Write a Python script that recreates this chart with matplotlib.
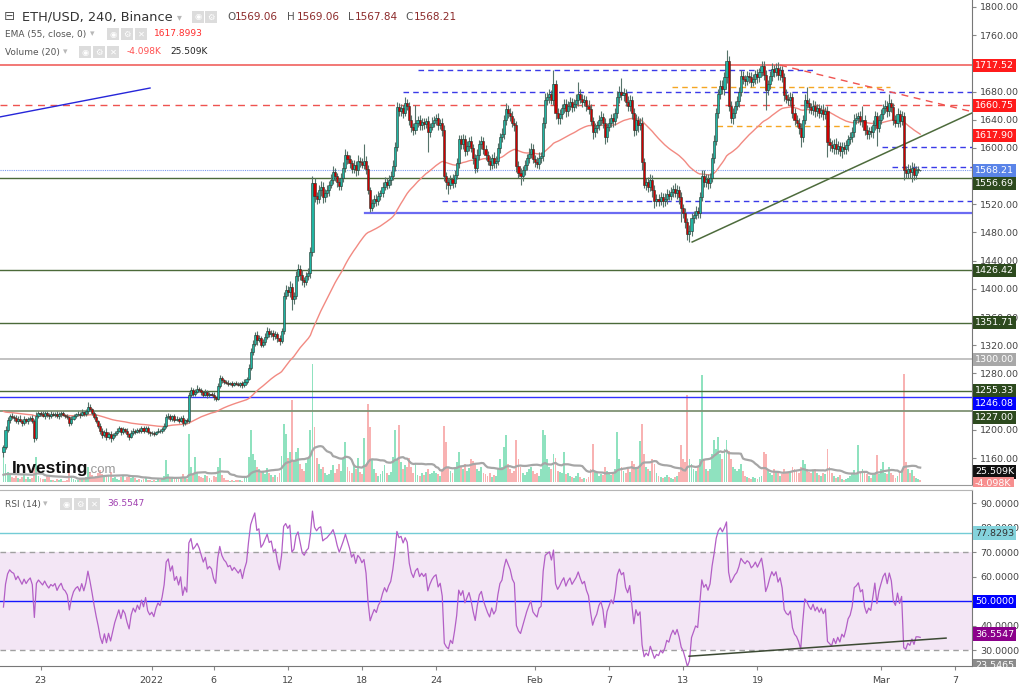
import numpy as np
import pandas as pd
import matplotlib
matplotlib.use("Agg")
import matplotlib.pyplot as plt
from matplotlib.transforms import blended_transform_factory, Bbox
from matplotlib.patches import Rectangle

plt.rcParams['font.family'] = ['DejaVu Sans']

# ---------------- data (4h candles, ETH/USD) ----------------
first_open = 1168.0
close = [
    1175, 1200, 1214, 1220, 1218, 1217,   # Dec 20
    1212, 1216, 1213, 1210, 1215, 1212,   # Dec 21
    1215, 1217, 1213, 1188, 1220, 1224,   # Dec 22
    1222, 1220, 1224, 1221, 1219, 1222,   # Dec 23
    1221, 1223, 1219, 1222, 1224, 1221,   # Dec 24
    1220, 1218, 1210, 1216, 1220, 1222,   # Dec 25
    1223, 1221, 1225, 1222, 1226, 1233,   # Dec 26
    1229, 1224, 1218, 1212, 1206, 1198,   # Dec 27
    1193, 1197, 1190, 1194, 1188, 1192,   # Dec 28
    1196, 1199, 1202, 1197, 1201, 1199,   # Dec 29
    1194, 1190, 1196, 1199, 1197, 1200,   # Dec 30
    1198, 1202, 1199, 1203, 1197, 1195,   # Dec 31
    1196, 1194, 1197, 1199, 1198, 1201,   # Jan 1
    1206, 1218, 1220, 1216, 1219, 1214,   # Jan 2
    1216, 1213, 1217, 1210, 1214, 1212,   # Jan 3
    1250, 1256, 1251, 1254, 1258, 1256,   # Jan 4
    1253, 1250, 1254, 1249, 1251, 1250,   # Jan 5
    1246, 1244, 1262, 1274, 1270, 1268,   # Jan 6
    1267, 1265, 1266, 1264, 1266, 1265,   # Jan 7
    1264, 1266, 1263, 1268, 1272, 1288,   # Jan 8
    1310, 1322, 1335, 1327, 1330, 1321,   # Jan 9
    1325, 1332, 1340, 1336, 1338, 1333,   # Jan 10
    1336, 1330, 1326, 1340, 1390, 1398,   # Jan 11
    1395, 1403, 1385, 1390, 1418, 1428,   # Jan 12
    1420, 1412, 1410, 1418, 1422, 1452,   # Jan 13
    1550, 1532, 1528, 1540, 1545, 1530,   # Jan 14
    1536, 1540, 1548, 1555, 1566, 1560,   # Jan 15
    1552, 1546, 1558, 1572, 1590, 1584,   # Jan 16
    1578, 1570, 1576, 1568, 1582, 1580,   # Jan 17
    1576, 1581, 1570, 1540, 1515, 1522,   # Jan 18
    1528, 1524, 1532, 1536, 1545, 1552,   # Jan 19
    1548, 1555, 1560, 1575, 1602, 1658,   # Jan 20
    1652, 1656, 1650, 1664, 1660, 1640,   # Jan 21
    1630, 1625, 1636, 1640, 1632, 1637,   # Jan 22
    1634, 1638, 1622, 1630, 1636, 1640,   # Jan 23
    1642, 1632, 1636, 1625, 1560, 1552,   # Jan 24
    1548, 1556, 1550, 1562, 1578, 1612,   # Jan 25
    1605, 1612, 1596, 1603, 1610, 1600,   # Jan 26
    1585, 1572, 1590, 1605, 1610, 1598,   # Jan 27
    1590, 1582, 1576, 1586, 1578, 1582,   # Jan 28
    1600, 1615, 1620, 1640, 1655, 1650,   # Jan 29
    1645, 1636, 1632, 1575, 1565, 1560,   # Jan 30
    1568, 1576, 1585, 1592, 1598, 1584,   # Jan 31
    1580, 1577, 1586, 1588, 1635, 1668,   # Feb 1
    1672, 1676, 1668, 1690, 1650, 1642,   # Feb 2
    1648, 1656, 1662, 1652, 1660, 1665,   # Feb 3
    1658, 1663, 1668, 1676, 1670, 1665,   # Feb 4
    1668, 1660, 1655, 1638, 1622, 1628,   # Feb 5
    1632, 1640, 1644, 1636, 1615, 1630,   # Feb 6
    1636, 1642, 1638, 1650, 1672, 1680,   # Feb 7
    1675, 1678, 1665, 1660, 1668, 1650,   # Feb 8
    1625, 1640, 1632, 1636, 1580, 1548,   # Feb 9
    1552, 1545, 1555, 1540, 1524, 1528,   # Feb 10
    1525, 1530, 1524, 1528, 1535, 1532,   # Feb 11
    1538, 1542, 1536, 1540, 1530, 1515,   # Feb 12
    1508, 1495, 1478, 1482, 1500, 1505,   # Feb 13
    1510, 1508, 1530, 1560, 1552, 1556,   # Feb 14
    1550, 1558, 1585, 1610, 1650, 1676,   # Feb 15
    1688, 1684, 1700, 1724, 1660, 1642,   # Feb 16
    1650, 1660, 1666, 1680, 1702, 1698,   # Feb 17
    1695, 1702, 1700, 1694, 1698, 1705,   # Feb 18
    1700, 1708, 1716, 1704, 1682, 1690,   # Feb 19
    1702, 1712, 1708, 1714, 1704, 1710,   # Feb 20
    1700, 1675, 1670, 1668, 1672, 1650,   # Feb 21
    1640, 1636, 1628, 1615, 1640, 1668,   # Feb 22
    1664, 1658, 1654, 1660, 1652, 1656,   # Feb 23
    1650, 1654, 1648, 1652, 1608, 1604,   # Feb 24
    1600, 1606, 1598, 1603, 1596, 1602,   # Feb 25
    1598, 1604, 1612, 1615, 1622, 1640,   # Feb 26
    1642, 1645, 1638, 1640, 1626, 1620,   # Feb 27
    1624, 1622, 1632, 1645, 1628, 1640,   # Feb 28
    1648, 1656, 1660, 1652, 1664, 1658,   # Mar 1
    1640, 1636, 1648, 1638, 1645, 1568,   # Mar 2
    1564, 1570, 1566, 1572, 1562, 1569.06,  # Mar 3
    1569.06, 1568.21,                       # Mar 4
]
wick_up = [
    3, 6, 4, 3, 4, 3,   # Dec 20
    4, 3, 5, 3, 4, 2,   # Dec 21
    3, 2, 4, 3, 5, 3,   # Dec 22
    2, 4, 3, 2, 3, 4,   # Dec 23
    3, 2, 4, 3, 2, 3,   # Dec 24
    2, 3, 2, 4, 3, 2,   # Dec 25
    3, 2, 4, 2, 3, 6,   # Dec 26
    3, 2, 3, 4, 2, 3,   # Dec 27
    4, 3, 5, 3, 4, 3,   # Dec 28
    3, 4, 3, 2, 3, 2,   # Dec 29
    3, 2, 4, 3, 2, 3,   # Dec 30
    2, 3, 4, 2, 3, 2,   # Dec 31
    2, 3, 2, 3, 2, 3,   # Jan 1
    3, 5, 4, 3, 2, 3,   # Jan 2
    3, 2, 3, 4, 2, 3,   # Jan 3
    4, 5, 3, 4, 5, 3,   # Jan 4
    3, 2, 4, 3, 2, 3,   # Jan 5
    3, 2, 5, 4, 3, 2,   # Jan 6
    2, 3, 2, 3, 2, 3,   # Jan 7
    3, 2, 3, 4, 3, 5,   # Jan 8
    6, 5, 4, 5, 4, 3,   # Jan 9
    4, 5, 6, 4, 3, 4,   # Jan 10
    4, 3, 4, 5, 6, 7,   # Jan 11
    6, 8, 5, 6, 7, 8,   # Jan 12
    6, 7, 5, 6, 8, 7,   # Jan 13
    10, 8, 6, 7, 8, 6,  # Jan 14
    6, 7, 5, 8, 9, 6,   # Jan 15
    5, 6, 7, 8, 9, 6,   # Jan 16
    6, 5, 7, 6, 8, 5,   # Jan 17
    6, 25, 7, 6, 5, 6,  # Jan 18
    5, 6, 7, 5, 6, 7,   # Jan 19
    5, 6, 7, 8, 6, 7,   # Jan 20
    6, 7, 5, 8, 6, 5,   # Jan 21
    7, 6, 25, 6, 7, 5,  # Jan 22
    6, 5, 7, 6, 8, 6,   # Jan 23
    6, 7, 5, 6, 8, 6,   # Jan 24
    6, 5, 7, 6, 8, 7,   # Jan 25
    7, 8, 6, 7, 6, 7,   # Jan 26
    6, 7, 8, 6, 7, 6,   # Jan 27
    6, 5, 7, 6, 8, 6,   # Jan 28
    7, 6, 8, 7, 9, 6,   # Jan 29
    6, 8, 7, 6, 7, 6,   # Jan 30
    6, 7, 6, 8, 9, 7,   # Jan 31
    6, 7, 8, 6, 9, 10,  # Feb 1
    8, 7, 6, 21, 7, 6,  # Feb 2
    7, 6, 8, 7, 6, 7,   # Feb 3
    6, 7, 8, 18, 7, 6,  # Feb 4
    7, 6, 8, 7, 6, 7,   # Feb 5
    6, 7, 8, 6, 7, 6,   # Feb 6
    7, 6, 8, 7, 9, 8,   # Feb 7
    19, 7, 6, 8, 7, 6,  # Feb 8
    7, 8, 6, 7, 8, 6,   # Feb 9
    6, 7, 8, 6, 7, 6,   # Feb 10
    6, 7, 6, 8, 7, 6,   # Feb 11
    7, 6, 8, 7, 6, 7,   # Feb 12
    6, 7, 6, 8, 7, 6,   # Feb 13
    7, 6, 8, 9, 8, 7,   # Feb 14
    7, 6, 8, 9, 7, 8,   # Feb 15
    8, 9, 8, 15, 7, 6,  # Feb 16
    7, 6, 8, 7, 8, 7,   # Feb 17
    6, 7, 6, 8, 7, 6,   # Feb 18
    7, 6, 8, 7, 6, 7,   # Feb 19
    7, 8, 6, 7, 8, 6,   # Feb 20
    6, 7, 8, 6, 7, 6,   # Feb 21
    6, 7, 6, 8, 7, 9,   # Feb 22
    18, 7, 6, 8, 7, 6,  # Feb 23
    6, 7, 8, 6, 7, 6,   # Feb 24
    7, 6, 8, 7, 6, 7,   # Feb 25
    6, 7, 6, 8, 7, 8,   # Feb 26
    7, 6, 8, 20, 7, 6,  # Feb 27
    6, 7, 8, 7, 6, 7,   # Feb 28
    7, 6, 8, 7, 12, 6,  # Mar 1
    6, 7, 8, 6, 8, 6,   # Mar 2
    6, 7, 6, 8, 7, 6,   # Mar 3
    5, 0,               # Mar 4
]
wick_dn = [
    6, 2, 3, 4, 3, 5,   # Dec 20
    3, 4, 2, 5, 3, 3,   # Dec 21
    4, 3, 3, 5, 2, 3,   # Dec 22
    3, 2, 4, 3, 3, 2,   # Dec 23
    2, 3, 2, 3, 4, 2,   # Dec 24
    3, 2, 5, 3, 2, 3,   # Dec 25
    2, 4, 2, 3, 2, 3,   # Dec 26
    3, 3, 2, 3, 4, 4,   # Dec 27
    5, 3, 4, 3, 5, 3,   # Dec 28
    2, 3, 2, 4, 3, 3,   # Dec 29
    4, 5, 2, 3, 3, 2,   # Dec 30
    3, 2, 3, 2, 3, 4,   # Dec 31
    2, 3, 2, 2, 3, 2,   # Jan 1
    2, 3, 3, 4, 3, 3,   # Jan 2
    2, 3, 2, 4, 3, 3,   # Jan 3
    3, 4, 3, 3, 2, 3,   # Jan 4
    3, 4, 2, 4, 3, 2,   # Jan 5
    4, 3, 2, 3, 4, 3,   # Jan 6
    2, 3, 2, 3, 2, 2,   # Jan 7
    2, 3, 4, 2, 3, 2,   # Jan 8
    3, 4, 3, 6, 3, 4,   # Jan 9
    3, 4, 3, 5, 4, 5,   # Jan 10
    4, 5, 6, 3, 4, 5,   # Jan 11
    5, 6, 15, 6, 5, 7,  # Jan 12
    7, 6, 8, 5, 6, 6,   # Jan 13
    6, 9, 7, 6, 8, 8,   # Jan 14
    7, 6, 8, 5, 6, 7,   # Jan 15
    8, 6, 5, 7, 6, 7,   # Jan 16
    7, 6, 5, 8, 6, 7,   # Jan 17
    5, 6, 7, 6, 6, 5,   # Jan 18
    6, 7, 5, 6, 5, 5,   # Jan 19
    6, 5, 7, 6, 8, 6,   # Jan 20
    7, 6, 8, 5, 6, 8,   # Jan 21
    8, 6, 5, 7, 6, 6,   # Jan 22
    7, 6, 28, 6, 5, 7,  # Jan 23
    7, 6, 5, 8, 7, 10,  # Jan 24
    14, 6, 7, 5, 6, 7,  # Jan 25
    6, 7, 8, 6, 7, 6,   # Jan 26
    8, 7, 6, 7, 6, 7,   # Jan 27
    7, 6, 8, 6, 7, 6,   # Jan 28
    6, 7, 6, 8, 7, 7,   # Jan 29
    7, 6, 8, 9, 8, 12,  # Jan 30
    7, 6, 8, 6, 7, 6,   # Jan 31
    7, 6, 7, 8, 6, 7,   # Feb 1
    7, 8, 6, 7, 9, 8,   # Feb 2
    8, 7, 6, 8, 7, 6,   # Feb 3
    7, 6, 7, 8, 6, 7,   # Feb 4
    6, 8, 7, 6, 9, 7,   # Feb 5
    7, 6, 7, 8, 9, 7,   # Feb 6
    6, 7, 8, 6, 7, 8,   # Feb 7
    7, 8, 6, 7, 8, 9,   # Feb 8
    8, 7, 9, 7, 12, 5,  # Feb 9
    7, 8, 6, 9, 9, 7,   # Feb 10
    7, 6, 8, 6, 7, 6,   # Feb 11
    6, 7, 6, 8, 9, 20,  # Feb 12
    8, 9, 8, 12, 7, 6,  # Feb 13
    6, 8, 7, 6, 8, 7,   # Feb 14
    8, 7, 6, 7, 6, 7,   # Feb 15
    7, 8, 9, 8, 7, 7,   # Feb 16
    8, 7, 6, 8, 7, 8,   # Feb 17
    7, 6, 8, 7, 6, 7,   # Feb 18
    8, 7, 6, 8, 28, 7,  # Feb 19
    6, 7, 8, 6, 7, 8,   # Feb 20
    7, 8, 6, 7, 8, 7,   # Feb 21
    7, 6, 8, 14, 7, 6,  # Feb 22
    7, 8, 6, 7, 8, 7,   # Feb 23
    7, 6, 8, 7, 21, 8,  # Feb 24
    6, 8, 7, 6, 8, 11,  # Feb 25
    7, 6, 8, 7, 6, 7,   # Feb 26
    6, 7, 6, 8, 7, 8,   # Feb 27
    7, 6, 8, 7, 25, 6,  # Feb 28
    6, 7, 6, 8, 7, 7,   # Mar 1
    7, 6, 7, 8, 6, 13,  # Mar 2
    7, 6, 8, 14, 7, 6,  # Mar 3
    4, 0.37,            # Mar 4
]
volume_k = [
    60, 36, 20, 14, 10, 8,      # Dec 20
    12, 8, 6, 10, 14, 6,        # Dec 21
    10, 6, 8, 28, 50, 12,       # Dec 22
    8, 6, 6, 14, 10, 4,         # Dec 23
    4, 3, 6, 4, 6, 3,           # Dec 24
    3, 4, 22, 10, 6, 4,         # Dec 25
    4, 6, 8, 8, 10, 30,         # Dec 26
    20, 14, 8, 12, 18, 24,      # Dec 27
    16, 10, 12, 14, 20, 8,      # Dec 28
    10, 6, 5, 10, 12, 5,        # Dec 29
    10, 14, 8, 12, 8, 4,        # Dec 30
    6, 4, 6, 8, 5, 4,           # Dec 31
    3, 4, 3, 6, 4, 6,           # Jan 1
    12, 44, 16, 8, 8, 6,        # Jan 2
    8, 6, 10, 16, 8, 6,         # Jan 3
    96, 30, 14, 50, 20, 12,     # Jan 4
    10, 8, 14, 12, 8, 5,        # Jan 5
    12, 10, 30, 48, 14, 8,      # Jan 6
    5, 4, 3, 4, 3, 5,           # Jan 7
    4, 5, 3, 8, 12, 50,         # Jan 8
    104, 56, 44, 30, 26, 18,    # Jan 9
    20, 16, 28, 18, 14, 10,     # Jan 10
    14, 10, 18, 52, 116, 96,    # Jan 11
    48, 60, 164, 40, 60, 68,    # Jan 12
    36, 26, 22, 38, 48, 104,    # Jan 13
    236, 110, 48, 36, 26, 30,   # Jan 14
    18, 14, 16, 24, 34, 18,     # Jan 15
    26, 36, 22, 46, 80, 30,     # Jan 16
    22, 18, 32, 26, 48, 20,     # Jan 17
    16, 88, 36, 156, 110, 44,   # Jan 18
    26, 18, 12, 16, 22, 34,     # Jan 19
    18, 14, 20, 50, 104, 46,    # Jan 20
    114, 40, 26, 34, 30, 48,    # Jan 21
    30, 18, 36, 14, 12, 18,     # Jan 22
    14, 20, 26, 16, 18, 22,     # Jan 23
    18, 16, 12, 26, 112, 80,    # Jan 24
    30, 22, 18, 26, 40, 60,     # Jan 25
    32, 26, 36, 22, 28, 46,     # Jan 26
    42, 36, 26, 22, 30, 18,     # Jan 27
    16, 12, 18, 10, 14, 12,     # Jan 28
    26, 46, 30, 70, 94, 36,     # Jan 29
    26, 18, 22, 84, 46, 30,     # Jan 30
    18, 14, 20, 26, 30, 22,     # Jan 31
    16, 18, 12, 26, 104, 94,    # Feb 1
    46, 30, 26, 56, 48, 22,     # Feb 2
    20, 18, 60, 16, 18, 12,     # Feb 3
    10, 8, 12, 18, 10, 6,       # Feb 4
    8, 6, 10, 26, 76, 20,       # Feb 5
    18, 12, 16, 14, 30, 22,     # Feb 6
    18, 14, 20, 26, 100, 46,    # Feb 7
    30, 22, 18, 26, 20, 42,     # Feb 8
    36, 26, 30, 82, 116, 56,    # Feb 9
    30, 26, 22, 46, 36, 18,     # Feb 10
    12, 10, 8, 10, 14, 10,      # Feb 11
    8, 6, 10, 12, 20, 74,       # Feb 12
    46, 40, 174, 46, 36, 26,    # Feb 13
    22, 30, 46, 214, 46, 26,    # Feb 14
    22, 26, 56, 84, 66, 90,     # Feb 15
    56, 46, 66, 84, 62, 46,     # Feb 16
    30, 26, 22, 26, 36, 22,     # Feb 17
    12, 10, 8, 6, 10, 8,        # Feb 18
    6, 10, 12, 60, 56, 26,      # Feb 19
    18, 14, 26, 20, 18, 12,     # Feb 20
    16, 26, 20, 18, 22, 30,     # Feb 21
    26, 22, 18, 30, 44, 36,     # Feb 22
    26, 20, 18, 22, 26, 18,     # Feb 23
    14, 12, 18, 16, 66, 30,     # Feb 24
    18, 12, 8, 10, 14, 6,       # Feb 25
    4, 6, 8, 12, 18, 24,        # Feb 26
    14, 74, 18, 26, 22, 16,     # Feb 27
    12, 8, 14, 18, 54, 16,      # Feb 28
    26, 40, 18, 16, 30, 18,     # Mar 1
    14, 8, 12, 18, 22, 216,     # Mar 2
    40, 26, 18, 24, 12, 8,      # Mar 3
    6, 4.098,                   # Mar 4
]
ema_seed = 1228.0
rsi_seed_gain = 4.0
rsi_seed_loss = 5.0
vol_ma_seed = 12.0

first_day = -3.0   # Dec 20 00:00, in days from Dec 23
tick_days = [0, 9, 14, 20, 26, 32, 40, 46, 52, 58, 68, 74]
tick_labels = ['23', '2022', '6', '12', '18', '24', 'Feb', '7', '13', '19', 'Mar', '7']
price_ticks = [1160, 1200, 1240, 1280, 1320, 1360, 1400, 1440, 1480, 1520,
               1560, 1600, 1640, 1680, 1720, 1760, 1800]
price_ticks_hidden = [1240, 1560, 1720]   # covered by the level labels
rsi_ticks = [30, 40, 50, 60, 70, 80, 90]
rsi_ticks_hidden = [50]

red_level = 1717.52
red_dash_level = 1660.75
ema_label_value = 1617.90
last_price = 1568.21
green_levels = [1556.69, 1426.42, 1351.71, 1255.33]
gray_level = 1300.00
blue_level = 1246.08
olive_level = 1227.00
rsi_cyan = 77.8293
rsi_mid = 50.0
rsi_last = 36.5547
rsi_low_label = 23.5465

# drawn objects: (price, start day, end day or None = right edge)
blue_dashed = [(1710.6, 30.54, 62.5), (1679.4, 29.33, None), (1524.7, 32.48, None),
               (1601.0, 68.1, None), (1573.4, 68.9, None)]
blue_solid = [(1507.3, 26.25, None)]
orange_dashed = [(1686.9, 51.07, 68.7), (1631.6, 54.7, 65.5)]
blue_trend_days, blue_trend_px = [-3.28, 8.86], [1644.0, 1685.0]
red_trend_days, red_trend_px = [59.83, 75.36], [1717.5, 1651.4]
green_trend_days, green_trend_px = [52.72, 75.36], [1466.5, 1649.6]
rsi_trend_days, rsi_trend_val = [52.47, 73.26], [27.5, 34.9]

# ---------------- computations ----------------
n = len(close)
assert len(wick_up) == n and len(wick_dn) == n and len(volume_k) == n, \
    (n, len(wick_up), len(wick_dn), len(volume_k))
t = first_day + np.arange(n) / 6.0
c = np.asarray(close, float)
o = np.r_[first_open, c[:-1]]
hi = np.maximum(o, c) + np.asarray(wick_up, float)
lo = np.minimum(o, c) - np.asarray(wick_dn, float)
up = c >= o

alpha = 2.0 / 56.0
ema = []
e = ema_seed
for v in c:
    e += alpha * (v - e)
    ema.append(e)

d = np.diff(np.r_[first_open, c])
g, l = rsi_seed_gain, rsi_seed_loss
rsi = []
for x in d:
    g = (g * 13 + max(x, 0)) / 14
    l = (l * 13 + max(-x, 0)) / 14
    rsi.append(100 - 100 / (1 + g / l))

vol = np.asarray(volume_k, float)
vma = pd.Series(np.r_[np.full(19, vol_ma_seed), vol]).rolling(20).mean().to_numpy()[19:]

# ---------------- layout ----------------
W, H = 1024, 687
fig = plt.figure(figsize=(W / 100, H / 100), dpi=100)
PLOT_R = 972
MAIN_BOT = 485
RSI_TOP, RSI_BOT = 490, 666
XMIN, XMAX = -3.28, 75.36

rect_main = [0, 1 - MAIN_BOT / H, PLOT_R / W, MAIN_BOT / H]
ax_vol = fig.add_axes(rect_main)
ax = fig.add_axes(rect_main)
ax.patch.set_visible(False)
ax_rsi = fig.add_axes([0, 1 - RSI_BOT / H, PLOT_R / W, (RSI_BOT - RSI_TOP) / H])

# volume
ax_vol.set_xlim(XMIN, XMAX)
ax_vol.set_ylim(-6, 964)
ax_vol.axis('off')
ax_vol.bar(t, vol, width=0.15, color=np.where(up, '#8fe2bf', '#f8b2b2'), linewidth=0, zorder=1)
ax_vol.plot(t, vma, color='#a6a6a6', lw=1.6, zorder=2)

# price panel
ax.set_xlim(XMIN, XMAX)
ax.set_ylim(1121.7, 1809.9)
ax.axhline(red_level, color='#ef5350', lw=1.1, zorder=2)
ax.axhline(red_dash_level, color='#ef5350', lw=1.0, ls=(0, (5, 4)), zorder=2)
for lv in green_levels:
    ax.axhline(lv, color='#4b6a39', lw=1.0, zorder=2)
ax.axhline(gray_level, color='#bdbdbd', lw=1.3, zorder=2)
ax.axhline(blue_level, color='#3030ff', lw=1.0, zorder=2)
ax.axhline(olive_level, color='#7f9274', lw=1.3, zorder=2)
ax.axhline(last_price, color='#7b9bef', lw=0.8, ls=(0, (1, 1)), zorder=2)
for p, a, b in blue_dashed:
    ax.plot([a, XMAX if b is None else b], [p, p], color='#3a3ae8', lw=1.0, ls=(0, (4, 3)), zorder=2)
for p, a, b in blue_solid:
    ax.plot([a, XMAX if b is None else b], [p, p], color='#6b6bf2', lw=1.6, zorder=2)
for p, a, b in orange_dashed:
    ax.plot([a, b], [p, p], color='#f5a623', lw=1.0, ls=(0, (4, 3)), zorder=2)
ax.plot(blue_trend_days, blue_trend_px, color='#2626d9', lw=1.0, zorder=2)
ax.plot(red_trend_days, red_trend_px, color='#ef5350', lw=1.0, ls=(0, (5, 4)), zorder=2)
ax.plot(green_trend_days, green_trend_px, color='#4d6b3c', lw=1.1, zorder=2)

ax.plot(t, ema, color='#f28a82', lw=1.0, zorder=3)
ax.vlines(t, lo, hi, colors='#56736a', lw=0.8, zorder=3.5)
ax.bar(t, np.maximum(np.abs(c - o), 0.8), bottom=np.minimum(o, c), width=0.17,
       color=np.where(up, '#1fb5a3', '#d00000'), edgecolor='#27352d', linewidth=0.4, zorder=4)

ax.yaxis.tick_right()
ax.set_yticks(price_ticks)
ax.set_yticklabels(['' if v in price_ticks_hidden else f'{v:.2f}' for v in price_ticks])
ax.tick_params(axis='y', length=3, width=0.8, color='#888', labelsize=6.8, labelcolor='#444', pad=3)
ax.tick_params(axis='x', bottom=False, labelbottom=False)
for s in ['top', 'left']:
    ax.spines[s].set_visible(False)
ax.spines['right'].set_color('#777')
ax.spines['bottom'].set_color('#999')

# RSI panel
ax_rsi.set_xlim(XMIN, XMAX)
ax_rsi.set_ylim(23.5, 95.4)
ax_rsi.axhspan(30, 70, color='#f3e6f5', lw=0, zorder=0)
ax_rsi.axhline(70, color='#a0a0a0', lw=1.0, ls=(0, (4, 3)), zorder=1)
ax_rsi.axhline(30, color='#a0a0a0', lw=1.0, ls=(0, (4, 3)), zorder=1)
ax_rsi.axhline(rsi_cyan, color='#73ccd6', lw=1.0, zorder=1)
ax_rsi.axhline(rsi_mid, color='#1515ff', lw=1.0, zorder=1)
ax_rsi.plot(t, rsi, color='#b35fc6', lw=0.9, zorder=2)
ax_rsi.plot(rsi_trend_days, rsi_trend_val, color='#3c4a34', lw=1.1, zorder=3)
ax_rsi.yaxis.tick_right()
ax_rsi.set_yticks(rsi_ticks)
ax_rsi.set_yticklabels(['' if v in rsi_ticks_hidden else f'{v:.4f}' for v in rsi_ticks])
ax_rsi.set_xticks(tick_days)
ax_rsi.set_xticklabels(tick_labels)
ax_rsi.tick_params(axis='y', length=3, width=0.8, color='#888', labelsize=6.8, labelcolor='#444', pad=3)
ax_rsi.tick_params(axis='x', length=3, width=0.8, color='#888', labelsize=6.8, labelcolor='#444', pad=4)
ax_rsi.spines['left'].set_visible(False)
ax_rsi.spines['top'].set_color('#b5b5b5')
ax_rsi.spines['right'].set_color('#777')
ax_rsi.spines['bottom'].set_color('#777')


def side_label(axx, yval, text, fc, tc='white', dy=0, clip=None):
    tr = blended_transform_factory(axx.transAxes, axx.transData)
    a = axx.annotate(text, xy=(1, yval), xycoords=tr, xytext=(3, -dy),
                     textcoords='offset pixels', ha='left', va='center',
                     fontsize=6.8, color=tc,
                     bbox=dict(boxstyle='square,pad=0.22', fc=fc, ec='none'),
                     annotation_clip=False, zorder=10)
    if clip is not None:
        a.set_clip_on(True)
        a.set_clip_box(clip)
    return a


side_label(ax, red_level, f'{red_level:.2f}', '#ff1b1b')
side_label(ax, red_dash_level, f'{red_dash_level:.2f}', '#ff1b1b')
side_label(ax, ema_label_value, f'{ema_label_value:.2f}', '#ff1b1b')
side_label(ax, last_price, f'{last_price:.2f}', '#5a84e8')
side_label(ax, green_levels[0], f'{green_levels[0]:.2f}', '#2d4a1e', dy=5)
side_label(ax, green_levels[1], f'{green_levels[1]:.2f}', '#2d4a1e')
side_label(ax, green_levels[2], f'{green_levels[2]:.2f}', '#2d4a1e')
side_label(ax, gray_level, f'{gray_level:.2f}', '#a8a8a8')
side_label(ax, green_levels[3], f'{green_levels[3]:.2f}', '#2d4a1e')
side_label(ax, blue_level, f'{blue_level:.2f}', '#0000ff', dy=6.5)
side_label(ax, olive_level, f'{olive_level:.2f}', '#2d4a1e', dy=7)

side_label(ax_vol, 20, '25.509K', '#111111')
side_label(ax_vol, -4, '-4.098K', '#f78f8f',
           clip=Bbox.from_extents(PLOT_R, H - 487, W, H))

side_label(ax_rsi, rsi_cyan, f'{rsi_cyan:.4f}', '#84d3dc', tc='#333333')
side_label(ax_rsi, rsi_mid, f'{rsi_mid:.4f}', '#0000ff')
side_label(ax_rsi, rsi_last, f'{rsi_last:.4f}', '#8b008b')
side_label(ax_rsi, rsi_low_label, f'{rsi_low_label:.4f}', '#8a8a8a',
           clip=Bbox.from_extents(PLOT_R, H - 667, W, H - RSI_TOP))


# ---------------- header texts ----------------
def ftext(x, y, s, size, color, **kw):
    fig.text(x / W, 1 - y / H, s, fontsize=size, color=color, va='center', ha='left', zorder=6, **kw)


def icon(x, y, glyph):
    fig.add_artist(Rectangle((x / W, 1 - (y + 6) / H), 12 / W, 12 / H, transform=fig.transFigure,
                             fc='#dcdcdc', ec='none', zorder=5))
    fig.text((x + 6) / W, 1 - y / H, glyph, fontsize=6, color='white', ha='center', va='center', zorder=6)


ftext(4, 17, '⊟', 9.5, '#555555')
ftext(22, 17, 'ETH/USD, 240, Binance', 9.3, '#333333')
ftext(177, 17, '▾', 7, '#b8b8b8')
icon(192, 17, '◉')
icon(205, 17, '⚙')
ftext(227, 17, 'O', 7.5, '#555555')
ftext(235, 17, '1569.06', 7.5, '#8c2a2a')
ftext(287, 17, 'H', 7.5, '#555555')
ftext(297, 17, '1569.06', 7.5, '#8c2a2a')
ftext(348, 17, 'L', 7.5, '#555555')
ftext(355, 17, '1567.84', 7.5, '#8c2a2a')
ftext(405, 17, 'C', 7.5, '#555555')
ftext(414, 17, '1568.21', 7.5, '#8c2a2a')

ftext(5, 34, 'EMA (55, close, 0)', 6.5, '#555555')
ftext(90, 34, '▾', 6.5, '#b8b8b8')
icon(107, 34, '◉')
icon(121, 34, '⚙')
icon(135, 34, '✕')
ftext(154, 34, '1617.8993', 6.5, '#ff2d2d')

ftext(5, 52, 'Volume (20)', 6.5, '#555555')
ftext(63, 52, '▾', 6.5, '#b8b8b8')
icon(79, 52, '◉')
icon(93, 52, '⚙')
icon(107, 52, '✕')
ftext(127, 52, '-4.098K', 6.5, '#ff5050')
ftext(170, 52, '25.509K', 6.5, '#222222')

ftext(5, 504, 'RSI (14)', 6.5, '#555555')
ftext(43, 504, '▾', 6.5, '#b8b8b8')
icon(60, 504, '◉')
icon(74, 504, '⚙')
icon(88, 504, '✕')
ftext(107, 504, '36.5547', 6.5, '#a040b0')

fig.text(12 / W, 1 - 468 / H, 'Investing', fontsize=12.5, fontweight='bold', color='#111111',
         family=['Liberation Sans', 'DejaVu Sans'], va='center', ha='left', zorder=6)
fig.text(88 / W, 1 - 470 / H, '.com', fontsize=9.5, color='#9a9a9a',
         family=['Liberation Sans', 'DejaVu Sans'], va='center', ha='left', zorder=6)

fig.savefig('out.png', dpi=100)
